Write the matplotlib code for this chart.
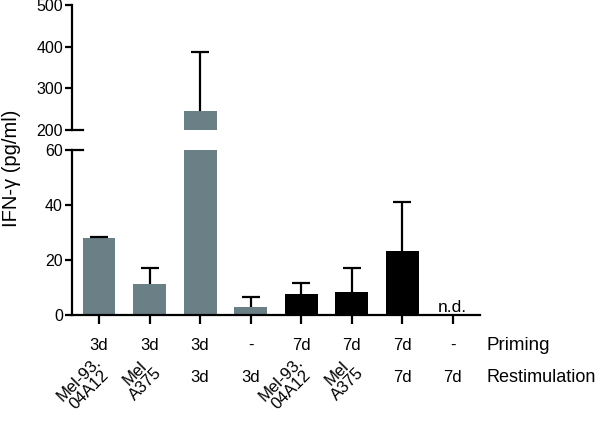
import numpy as np
import matplotlib
matplotlib.use("Agg")
import matplotlib.pyplot as plt

plt.rcParams['font.family'] = ['Liberation Sans', 'DejaVu Sans']

# IFN-gamma per condition (pg/ml), last group not detected
means = [28.0, 11.3, 245.6, 3.0, 7.5, 8.3, 23.3]
errs = [0.5, 5.8, 141.0, 3.7, 4.2, 8.7, 17.7]
bar_colors = ['#6b7f87', '#6b7f87', '#6b7f87', '#6b7f87', 'black', 'black', 'black']
priming = ['3d', '3d', '3d', '-', '7d', '7d', '7d', '-']
restim = ['Mel-93.\n04A12', 'Mel\nA375', '3d', '3d', 'Mel-93.\n04A12', 'Mel\nA375', '7d', '7d']
upper_ticks = [200, 300, 400, 500]
lower_ticks = [0, 20, 40, 60]

fig = plt.figure(figsize=(6, 4.34), dpi=100)
ax_hi = fig.add_axes([0.12, 0.7005, 0.68, 0.288])
ax_lo = fig.add_axes([0.12, 0.2742, 0.68, 0.3802])

x = np.arange(len(priming))
xb = x[:len(means)]
lw = 1.6

for ax in (ax_hi, ax_lo):
    ax.bar(xb, means, width=0.65, color=bar_colors, zorder=2)
    eb = ax.errorbar(xb, means, yerr=[np.zeros(len(errs)), errs], fmt='none',
                     ecolor='black', elinewidth=lw, capsize=6.5, capthick=lw, zorder=3)
    eb[1][0].set_visible(False)  # only upper caps
    ax.set_xlim(-0.535, 7.54)
    for s in ('top', 'right'):
        ax.spines[s].set_visible(False)
    for s in ('left', 'bottom'):
        ax.spines[s].set_linewidth(lw)
    ax.tick_params(axis='y', length=5, width=lw, labelsize=11.5, pad=1.5)

ax_hi.set_ylim(200, 500)
ax_hi.set_yticks(upper_ticks)
ax_hi.spines['bottom'].set_visible(False)
ax_hi.set_xticks([])

ax_lo.set_ylim(0, 60)
ax_lo.set_yticks(lower_ticks)
ax_lo.set_xticks(x)
ax_lo.set_xticklabels([])
ax_lo.tick_params(axis='x', length=6.5, width=lw)

# break marks
ax_hi.plot([0, 0.026], [0, 0], transform=ax_hi.transAxes, color='black', lw=lw, clip_on=False)
ax_lo.plot([0, 0.026], [1, 1], transform=ax_lo.transAxes, color='black', lw=lw, clip_on=False)

ax_lo.text(x[-1], 1.1, 'n.d.', ha='center', va='baseline', fontsize=12.5)

tr = ax_lo.get_xaxis_transform()
for i, lab in enumerate(priming):
    ax_lo.text(x[i], -0.182, lab, transform=tr, ha='center', va='center', fontsize=12)
for i, lab in enumerate(restim):
    if '\n' in lab:
        ax_lo.text(x[i] + 0.3, -0.24, lab, transform=tr, ha='right', va='top',
                   rotation=45, multialignment='center', fontsize=12, linespacing=1.0)
    else:
        ax_lo.text(x[i], -0.376, lab, transform=tr, ha='center', va='center', fontsize=12)

ax_lo.text(1.017, -0.182, 'Priming', transform=ax_lo.transAxes, ha='left', va='center', fontsize=13.5)
ax_lo.text(1.017, -0.376, 'Restimulation', transform=ax_lo.transAxes, ha='left', va='center', fontsize=13)

fig.text(0.02, 0.613, 'IFN-\u03b3 (pg/ml)', rotation=90, ha='center', va='center', fontsize=14.5)

fig.savefig('out.png', dpi=100)
